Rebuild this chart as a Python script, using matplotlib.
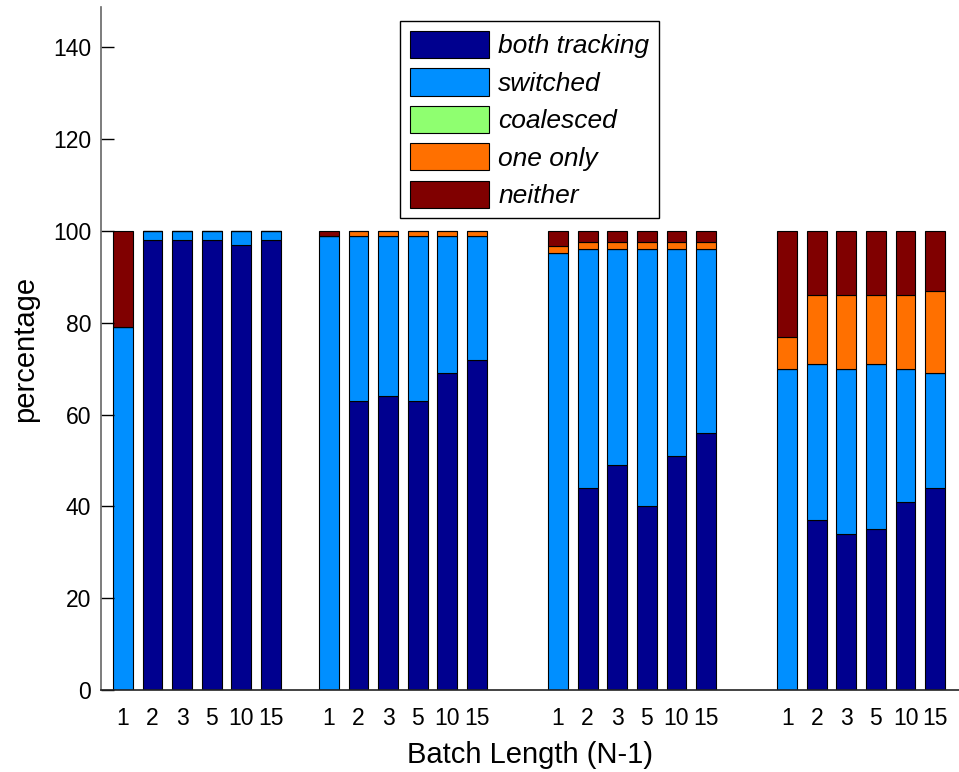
import matplotlib.pyplot as plt
import numpy as np

plt.rcParams['font.family'] = ['Liberation Sans', 'DejaVu Sans']

# batch lengths shown under every group
batch_labels = ['1', '2', '3', '5', '10', '15']

# stacked percentages, 4 groups x 6 batch lengths
both_tracking = [0, 98, 98, 98, 97, 98,
                 0, 63, 64, 63, 69, 72,
                 0, 44, 49, 40, 51, 56,
                 0, 37, 34, 35, 41, 44]
switched = [79, 2, 2, 2, 3, 2,
            99, 36, 35, 36, 30, 27,
            95.1, 52, 47, 56, 45, 40,
            70, 34, 36, 36, 29, 25]
coalesced = [0, 0, 0, 0, 0, 0,
             0, 0, 0, 0, 0, 0,
             0, 0, 0, 0, 0, 0,
             0, 0, 0, 0, 0, 0]
one_only = [0, 0, 0, 0, 0, 0,
            0, 1, 1, 1, 1, 1,
            1.7, 1.7, 1.7, 1.7, 1.7, 1.7,
            7, 15, 16, 15, 16, 18]
neither = [21, 0, 0, 0, 0, 0,
           1, 0, 0, 0, 0, 0,
           3.2, 2.3, 2.3, 2.3, 2.3, 2.3,
           23, 14, 14, 14, 14, 13]

series_names = ['both tracking', 'switched', 'coalesced', 'one only', 'neither']
series_colors = ['#00008F', '#008FFF', '#8FFF70', '#FF7000', '#800000']

# bar positions (in bar-spacing units)
group_starts = [0.74, 7.70, 15.44, 23.18]
xpos = np.concatenate([g + np.arange(6) for g in group_starts])

fig = plt.figure(figsize=(9.59, 7.72), dpi=100)
ax = fig.add_axes([101 / 959, 82 / 772, 858 / 959, 683 / 772])

bottom = np.zeros(len(xpos))
for vals, name, col in zip([both_tracking, switched, coalesced, one_only, neither],
                           series_names, series_colors):
    vals = np.array(vals, dtype=float)
    ax.bar(xpos, vals, width=0.67, bottom=bottom, color=col, edgecolor='black',
           linewidth=0.8, label=name)
    bottom = bottom + vals

ax.set_xlim(0, 858 / 29.6)
ax.set_ylim(0, 148.8)
ax.set_yticks(np.arange(0, 141, 20))
ax.set_xticks(xpos)
ax.set_xticklabels(batch_labels * 4)

ax.spines['top'].set_visible(False)
ax.spines['right'].set_visible(False)
ax.spines['left'].set_color('#666666')
ax.spines['bottom'].set_color('#222222')
ax.spines['left'].set_linewidth(1.2)
ax.spines['bottom'].set_linewidth(1.2)

ax.tick_params(axis='y', direction='in', length=9, width=1, labelsize=16.5, pad=7)
ax.tick_params(axis='x', length=0, labelsize=16.5, pad=12)

ax.set_ylabel('percentage', fontsize=21, labelpad=10)
ax.set_xlabel('Batch Length (N-1)', fontsize=21, labelpad=8)

leg = ax.legend(loc='upper left', bbox_to_anchor=(400 / 959, 1 - 21 / 772),
                bbox_transform=fig.transFigure, borderaxespad=0,
                fontsize=19, handlelength=3.0, handleheight=1.2,
                labelspacing=0.38, handletextpad=0.35, borderpad=0.38,
                fancybox=False, framealpha=1, edgecolor='black')
leg.get_frame().set_linewidth(1.0)
for t in leg.get_texts():
    t.set_fontstyle('italic')

fig.savefig('out.png', dpi=100)
